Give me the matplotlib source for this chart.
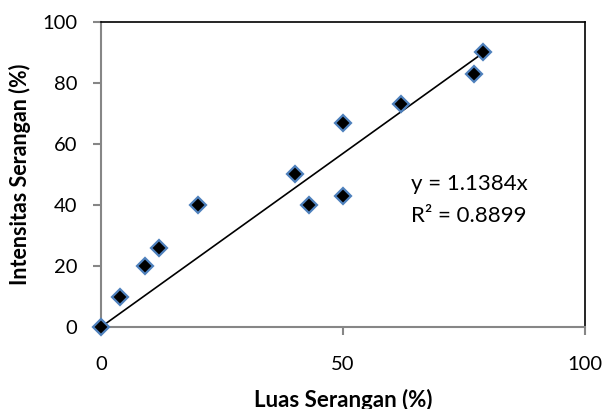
import numpy as np
import matplotlib.pyplot as plt

plt.rcParams["font.family"] = ["Lato", "DejaVu Sans"]

luas = [0, 4, 9, 12, 20, 40, 43, 50, 50, 62, 77, 79]
intensitas = [0, 10, 20, 26, 40, 50, 40, 67, 43, 73, 83, 90]
slope = 1.1384
r2 = 0.8899

fig = plt.figure(figsize=(6.06, 4.09), dpi=100)
ax = fig.add_axes([101 / 606, 1 - 327 / 409, 484 / 606, 305 / 409])

xl = np.array([0, max(luas)])
ax.plot(xl, slope * xl, color="black", lw=1.2, zorder=2)
ax.plot(luas, intensitas, "D", ms=8.5, mfc="black", mec="#4F81BD", mew=1.6,
        clip_on=False, zorder=3)

ax.text(64, 47, f"y = {slope}x", fontsize=16, va="center")
ax.text(64, 36.5, f"R² = {r2}", fontsize=16, va="center")

ax.set_xlim(0, 100)
ax.set_ylim(0, 100)
ax.set_xticks([0, 50, 100])
ax.set_yticks(range(0, 101, 20))
ax.set_xlabel("Luas Serangan (%)", fontsize=16, fontweight="bold", labelpad=11)
ax.set_ylabel("Intensitas Serangan (%)", fontsize=15.5, fontweight="bold", labelpad=8)

for s in ["left", "bottom"]:
    ax.spines[s].set_color("#868686")
    ax.spines[s].set_linewidth(1.5)
for s in ["top", "right"]:
    ax.spines[s].set_color("black")
    ax.spines[s].set_linewidth(1.2)
ax.tick_params(direction="out", length=6, width=1.5, color="#868686",
               labelsize=14.5, pad=11)
ax.tick_params(axis="x", pad=15)

plt.savefig("out.png", dpi=100)
